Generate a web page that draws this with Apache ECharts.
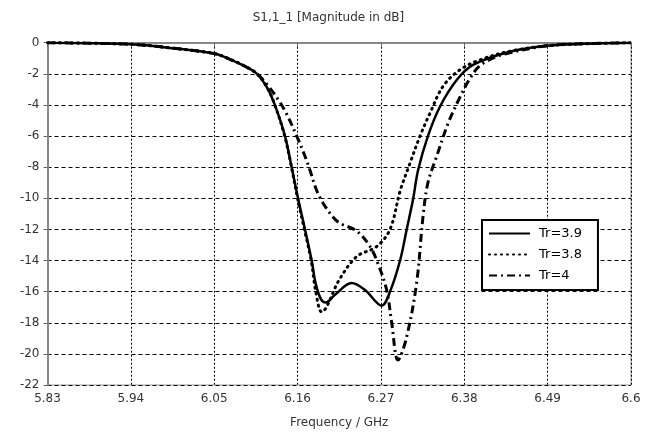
<!DOCTYPE html>
<html>
<head>
<meta charset="utf-8">
<script src="https://cdn.jsdelivr.net/npm/echarts@6/dist/echarts.min.js"></script>
<style>
  html, body { margin: 0; padding: 0; background: #fff; }
  #main { width: 657px; height: 434px; }
</style>
</head>
<body>
<div id="main"></div>
<script>
// frequency (GHz) / magnitude (dB)
var freq39 = [5.83, 5.94, 5.995, 6.05, 6.07, 6.09, 6.1065, 6.12, 6.130, 6.1434, 6.1522, 6.1606, 6.1698, 6.1786, 6.184, 6.191, 6.197, 6.2094, 6.2314, 6.249, 6.271, 6.282, 6.2955, 6.304, 6.3123, 6.319, 6.332, 6.348, 6.370, 6.3915, 6.440, 6.489, 6.550, 6.6];
var mag39 = [0, -0.1, -0.35, -0.7, -1.05, -1.5, -2.0, -2.9, -4.0, -6.0, -8.0, -10.0, -12.0, -14.0, -15.5, -16.5, -16.7, -16.2, -15.45, -15.9, -16.9, -16.0, -13.95, -12.0, -10.1, -8.2, -6.0, -4.1, -2.4, -1.43, -0.58, -0.2, -0.05, 0];

var freq38 = [5.83, 5.94, 5.995, 6.05, 6.07, 6.09, 6.1065, 6.12, 6.130, 6.143, 6.152, 6.160, 6.169, 6.178, 6.184, 6.1918, 6.2154, 6.238, 6.2644, 6.282, 6.2955, 6.3087, 6.3216, 6.335, 6.352, 6.374, 6.401, 6.440, 6.489, 6.550, 6.6];
var mag38 = [0, -0.1, -0.35, -0.7, -1.05, -1.5, -2.0, -2.9, -4.0, -6.0, -8.0, -10.0, -12.0, -14.0, -16.0, -17.3, -15.2, -13.75, -13.1, -12.0, -9.5, -7.7, -6.0, -4.5, -2.8, -1.75, -1.1, -0.55, -0.2, -0.05, 0];

var freq40 = [5.83, 5.94, 5.995, 6.05, 6.07, 6.09, 6.1065, 6.12, 6.135, 6.1457, 6.1589, 6.1698, 6.1764, 6.1852, 6.1935, 6.2067, 6.2159, 6.238, 6.2556, 6.2661, 6.2776, 6.2842, 6.2925, 6.304, 6.3172, 6.3255, 6.332, 6.3436, 6.3585, 6.3743, 6.3875, 6.40, 6.42, 6.440, 6.489, 6.550, 6.6];
var mag40 = [0, -0.1, -0.35, -0.7, -1.05, -1.5, -2.0, -2.7, -3.7, -4.6, -6.0, -7.3, -8.2, -9.5, -10.3, -11.2, -11.6, -12.1, -13.1, -14.2, -15.9, -18.0, -20.4, -18.9, -15.4, -11.2, -9.0, -7.3, -5.2, -3.5, -2.3, -1.5, -0.95, -0.65, -0.2, -0.05, 0];

var seriesNames = ['Tr=3.9', 'Tr=3.8', 'Tr=4'];

function pairs(xs, ys) {
  var out = [];
  for (var i = 0; i < xs.length; i++) out.push([xs[i], ys[i]]);
  return out;
}

var chart = echarts.init(document.getElementById('main'));
var font = 'DejaVu Sans';

var option = {
  backgroundColor: '#fff',
  animation: false,
  color: ['#000', '#000', '#000'],
  title: {
    text: 'S1,1_1 [Magnitude in dB]',
    left: 'center',
    top: 7,
    textStyle: { fontFamily: font, fontSize: 12, fontWeight: 'normal', color: '#333' }
  },
  grid: {
    left: 47.5, right: 26, top: 42.7, bottom: 49,
    show: true, borderColor: '#999', borderWidth: 1
  },
  legend: {
    orient: 'vertical',
    left: 482, top: 220,
    padding: [7, 16, 8, 6],
    itemWidth: 41, itemHeight: 14, itemGap: 8,
    backgroundColor: '#fff',
    borderColor: '#000', borderWidth: 2, borderRadius: 0,
    itemStyle: { opacity: 0 },
    textStyle: { fontFamily: font, fontSize: 13, color: '#000', padding: [0, 0, 0, 4] },
    data: seriesNames
  },
  xAxis: {
    type: 'value',
    min: 5.83, max: 6.6, interval: 0.11,
    name: 'Frequency / GHz',
    nameLocation: 'middle', nameGap: 32,
    nameTextStyle: { fontFamily: font, fontSize: 12, color: '#333' },
    axisLine: { show: true, lineStyle: { color: '#888', width: 2 } },
    axisTick: { show: true, length: 4, lineStyle: { color: '#666' } },
    axisLabel: {
      fontFamily: font, fontSize: 12, color: '#333', margin: 8,
      formatter: function (v) { return String(parseFloat(v.toFixed(2))); }
    },
    splitLine: { show: true, lineStyle: { color: '#000', width: 1, type: [2, 2] } }
  },
  yAxis: {
    type: 'value',
    min: -22, max: 0, interval: 2,
    axisLine: { show: true, lineStyle: { color: '#888', width: 2 } },
    axisTick: { show: true, length: 4, lineStyle: { color: '#666' } },
    axisLabel: { fontFamily: font, fontSize: 12, color: '#333', margin: 8 },
    splitLine: { show: true, lineStyle: { color: '#000', width: 1, type: [4, 3] } }
  },
  series: [
    {
      name: seriesNames[0], type: 'line', smooth: 0.35, symbol: 'none',
      itemStyle: { color: '#000' },
      lineStyle: { color: '#000', width: 2.5, type: 'solid' },
      data: pairs(freq39, mag39)
    },
    {
      name: seriesNames[1], type: 'line', smooth: 0.35, symbol: 'none',
      itemStyle: { color: '#000' },
      lineStyle: { color: '#000', width: 3, type: [1, 5], cap: 'round' },
      data: pairs(freq38, mag38)
    },
    {
      name: seriesNames[2], type: 'line', smooth: 0.35, symbol: 'none',
      itemStyle: { color: '#000' },
      lineStyle: { color: '#000', width: 3, type: [8, 4, 2, 4] },
      data: pairs(freq40, mag40)
    }
  ]
};

chart.setOption(option);
</script>
</body>
</html>
